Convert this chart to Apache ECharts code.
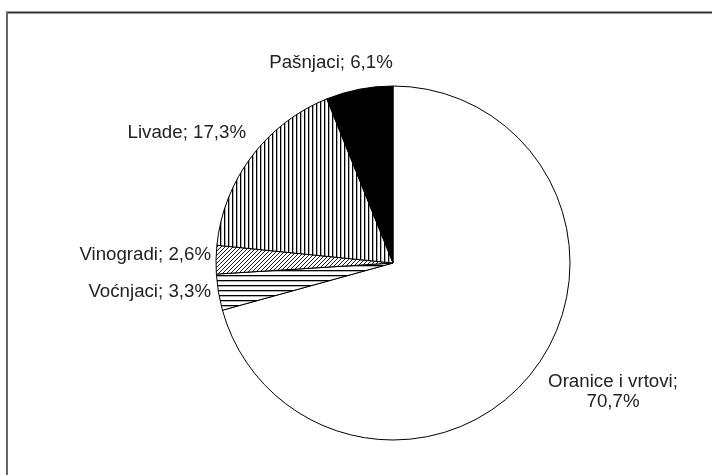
<!DOCTYPE html>
<html>
<head>
<meta charset="utf-8">
<script src="https://cdn.jsdelivr.net/npm/echarts@6/dist/echarts.min.js"></script>
<style>html,body{margin:0;padding:0;background:#fff}#c{width:712px;height:475px}</style>
</head>
<body>
<div id="c"></div>
<script>
const categories = ['Oranice i vrtovi', 'Voćnjaci', 'Vinogradi', 'Livade', 'Pašnjaci'];
const values = [70.7, 3.3, 2.6, 17.3, 6.1];
const labelTexts = ['Oranice i vrtovi;\n70,7%', 'Voćnjaci; 3,3%', 'Vinogradi; 2,6%', 'Livade; 17,3%', 'Pašnjaci; 6,1%'];

function makePattern(kind) {
  const c = document.createElement('canvas');
  const ctx = c.getContext('2d');
  if (kind === 'v') {
    c.width = 4; c.height = 4;
    ctx.fillStyle = '#fff'; ctx.fillRect(0, 0, 4, 4);
    ctx.fillStyle = '#000'; ctx.fillRect(0, 0, 1.3, 4);
  } else if (kind === 'h') {
    c.width = 5; c.height = 5;
    ctx.fillStyle = '#fff'; ctx.fillRect(0, 0, 5, 5);
    ctx.fillStyle = '#000'; ctx.fillRect(0, 0, 5, 1.3);
  } else if (kind === 'd') {
    c.width = 4; c.height = 4;
    ctx.fillStyle = '#fff'; ctx.fillRect(0, 0, 4, 4);
    ctx.strokeStyle = '#000'; ctx.lineWidth = 0.9;
    ctx.beginPath();
    ctx.moveTo(-1, 5); ctx.lineTo(5, -1);
    ctx.moveTo(-1, 1); ctx.lineTo(1, -1);
    ctx.moveTo(3, 5); ctx.lineTo(5, 3);
    ctx.stroke();
  }
  return { image: c, repeat: 'repeat' };
}

const fills = ['#ffffff', makePattern('h'), makePattern('d'), makePattern('v'), '#000000'];
const labelPos = {
  'Oranice i vrtovi': { x: 613, y: 392, align: 'center' },
  'Voćnjaci': { x: 211, y: 292, align: 'right' },
  'Vinogradi': { x: 211, y: 255, align: 'right' },
  'Livade': { x: 246, y: 133, align: 'right' },
  'Pašnjaci': { x: 331, y: 63, align: 'center' }
};

const chart = echarts.init(document.getElementById('c'), null, { renderer: 'canvas' });
chart.setOption({
  animation: false,
  backgroundColor: '#ffffff',
  graphic: [
    { type: 'line', shape: { x1: 6, y1: 12.5, x2: 712, y2: 12.5 }, style: { stroke: '#333', lineWidth: 2 } },
    { type: 'line', shape: { x1: 7, y1: 12, x2: 7, y2: 475 }, style: { stroke: '#666', lineWidth: 2 } }
  ],
  series: [{
    type: 'pie',
    center: [393, 263],
    radius: 177,
    startAngle: 90,
    clockwise: true,
    avoidLabelOverlap: false,
    silent: true,
    data: categories.map((n, i) => ({
      name: n,
      value: values[i],
      itemStyle: { color: fills[i] },
      label: { formatter: labelTexts[i] }
    })),
    itemStyle: { borderColor: '#000', borderWidth: 1 },
    label: {
      show: true,
      position: 'outside',
      fontFamily: 'Liberation Sans, Arial, sans-serif',
      fontSize: 18.7,
      color: '#222',
      lineHeight: 20,
      align: 'center'
    },
    labelLine: { show: false },
    labelLayout: function (p) {
      const pos = labelPos[categories[p.dataIndex]];
      return { x: pos.x, y: pos.y, align: pos.align, verticalAlign: 'middle' };
    }
  }]
});
</script>
</body>
</html>
